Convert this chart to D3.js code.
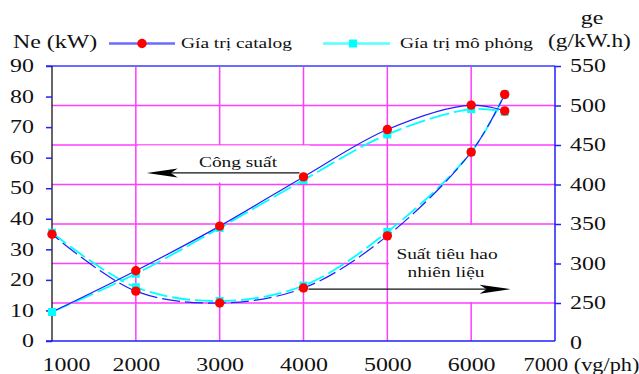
<!DOCTYPE html>
<html><head><meta charset="utf-8">
<script src="https://cdn.jsdelivr.net/npm/d3@7"></script>
<style>
  body { margin: 0; background: #fff; }
  svg { display: block; }
  svg text { font-family: "Times New Roman", "Liberation Serif", "DejaVu Serif", serif; fill: #111; }
</style>
</head><body>
<svg id="chart" width="639" height="374"></svg>
<script>
// Engine speed (vg/ph)
const rpm = [1000, 2000, 3000, 4000, 5000, 6000, 6400];
// Effective power Ne (kW)
const neCatalog   = [9.5, 23, 37.6, 53.7, 69.2, 77.2, 75.3];
const neCatalogMarked = [false, true, true, true, true, true, true];
const neSimulated = [9.5, 22, 37, 52.7, 67.6, 75.9, 75.0];
// Specific fuel consumption ge (g/kW.h)
const geCatalog   = [337, 265, 250, 269, 335, 441, 514];
const geSimulated = [339, 270, 252.5, 272, 340, 441, 514];

// Axis ticks and labels
const xTicks = [1000, 2000, 3000, 4000, 5000, 6000, 7000];
const xTickLabels = ["1000", "2000", "3000", "4000", "5000", "6000", "7000 (vg/ph)"];
const neTicks = [0, 10, 20, 30, 40, 50, 60, 70, 80, 90];
const geTicks = [200, 250, 300, 350, 400, 450, 500, 550];
const geTickLabels = ["0", "250", "300", "350", "400", "450", "500", "550"];
const xGrid = [2000, 3000, 4000, 5000, 6000];
const geGrid = [250, 300, 350, 400, 450, 500];

const leftTitle = "Ne (kW)";
const rightTitle = ["ge", "(g/kW.h)"];
const seriesNames = ["Gía trị catalog", "Gía trị mô phỏng"];
const powerNote = "Công suất";
const fuelNote = ["Suất tiêu hao", "nhiên liệu"];

// ---- layout ----
const SERIF = "'Times New Roman', 'Liberation Serif', 'DejaVu Serif', serif";
const SX = 1.33;                  // horizontal stretch of the lettering
const plot = { left: 52, right: 555, top: 66, bottom: 341 };
const BLUE = "#1f1fff", CYAN = "#00ffff", GRID = "#ff3cff", RED = "#ff0000";

const svg = d3.select("#chart");
const x = d3.scaleLinear([1000, 7000], [plot.left, plot.right]);
const yNe = d3.scaleLinear([0, 90], [plot.bottom, plot.top]);
const yGe = d3.scaleLinear([200, 550], [342.5, plot.top]);

// stretched text helper
function label(g, str, px, py, size, anchor, sx) {
  return g.append("text")
    .attr("transform", `translate(${px},${py}) scale(${sx || SX},1)`)
    .attr("text-anchor", anchor || "start")
    .style("font-family", SERIF)
    .style("font-size", size + "px")
    .text(str);
}

// ---- grid ----
const grid = svg.append("g").attr("stroke", GRID).attr("stroke-width", 1.5);
grid.selectAll(".gx").data(xGrid).join("line")
  .attr("x1", d => x(d)).attr("x2", d => x(d))
  .attr("y1", plot.top).attr("y2", plot.bottom);
grid.selectAll(".gy").data(geGrid).join("line")
  .attr("x1", plot.left).attr("x2", plot.right)
  .attr("y1", d => yGe(d)).attr("y2", d => yGe(d));

// annotation backgrounds
const notes = svg.append("g");
notes.append("rect").attr("x", 138).attr("y", 145.5).attr("width", 172).attr("height", 37).attr("fill", "#fff");
notes.append("rect").attr("x", 389).attr("y", 225).attr("width", 165).attr("height", 77).attr("fill", "#fff");

// ---- axes ----
const axes = svg.append("g");
axes.append("line").attr("x1", 46).attr("x2", plot.right).attr("y1", plot.top).attr("y2", plot.top)
  .attr("stroke", "#6b6bff").attr("stroke-width", 2);
axes.append("line").attr("x1", 46).attr("x2", plot.right).attr("y1", plot.bottom).attr("y2", plot.bottom)
  .attr("stroke", BLUE).attr("stroke-width", 1.5);
axes.append("line").attr("x1", plot.right).attr("x2", plot.right).attr("y1", plot.top).attr("y2", plot.bottom)
  .attr("stroke", BLUE).attr("stroke-width", 1.5);
axes.append("line").attr("x1", plot.left).attr("x2", plot.left).attr("y1", plot.top).attr("y2", plot.bottom)
  .attr("stroke", "#000").attr("stroke-width", 1.2);

function styleAxis(g) {
  g.attr("font-family", SERIF);
  g.select(".domain").remove();
  g.selectAll(".tick line").attr("stroke", BLUE).attr("stroke-width", 1.5);
  g.selectAll(".tick text")
    .style("font-size", "18px").style("font-family", SERIF).attr("fill", "#111")
    .attr("transform", `scale(${SX},1)`)
    .attr("x", function () { return (+this.getAttribute("x") || 0) / SX; });
}

svg.append("g").attr("transform", `translate(${plot.left},0)`)
  .call(d3.axisLeft(yNe).tickValues(neTicks).tickSize(6).tickPadding(12).tickFormat(d3.format("d")))
  .call(styleAxis);

svg.append("g").attr("transform", `translate(${plot.right},0)`)
  .call(d3.axisRight(yGe).tickValues(geTicks).tickSize(6).tickPadding(9)
    .tickFormat((d, i) => geTickLabels[i]))
  .call(styleAxis)
  .call(g => g.selectAll(".tick").filter(d => d === 200).select("line").remove());

svg.append("g").attr("transform", `translate(0,${plot.bottom})`)
  .call(d3.axisBottom(x).tickValues(xTicks).tickSize(0).tickPadding(17)
    .tickFormat((d, i) => xTickLabels[i]))
  .call(styleAxis)
  .call(g => {
    const t = g.selectAll(".tick text");
    t.filter((d, i) => i === 0).attr("x", 14 / SX);
    // the unit label runs to the right edge, so it is set a little narrower
    t.filter((d, i) => i === xTicks.length - 1)
      .attr("text-anchor", "start").attr("transform", "scale(1.24,1)").attr("x", -32 / 1.24);
  });

// ---- curves ----
const curve = d3.curveCatmullRom.alpha(0.5);
const lineNe = d3.line().x((d, i) => x(rpm[i])).y(d => yNe(d)).curve(curve);
const lineGe = d3.line().x((d, i) => x(rpm[i])).y(d => yGe(d)).curve(curve);

const lines = svg.append("g").attr("fill", "none");
lines.append("path").attr("d", lineGe(geSimulated)).attr("stroke", CYAN).attr("stroke-width", 1.8)
  .attr("stroke-dasharray", "18,5");
lines.append("path").attr("d", lineGe(geCatalog)).attr("stroke", BLUE).attr("stroke-width", 1.2)
  .attr("stroke-dasharray", "18,5").attr("stroke-dashoffset", 9);
lines.append("path").attr("d", lineNe(neSimulated)).attr("stroke", CYAN).attr("stroke-width", 1.8)
  .attr("stroke-dasharray", "20,5");
lines.append("path").attr("d", lineNe(neCatalog)).attr("stroke", BLUE).attr("stroke-width", 1.2);

// ---- markers ----
const marks = svg.append("g");
const sq = 8;
function squares(vals, y) {
  marks.append("g").selectAll("rect").data(vals).join("rect")
    .attr("x", (d, i) => x(rpm[i]) - sq / 2).attr("y", d => y(d) - sq / 2)
    .attr("width", sq).attr("height", sq).attr("fill", CYAN);
}
function dots(vals, y, shown) {
  marks.append("g").selectAll("circle").data(vals.map((v, i) => ({ v, i })).filter(d => !shown || shown[d.i]))
    .join("circle")
    .attr("cx", d => x(rpm[d.i])).attr("cy", d => y(d.v)).attr("r", 4.7).attr("fill", RED);
}
squares(geSimulated, yGe);
squares(neSimulated, yNe);
dots(geCatalog, yGe);
dots(neCatalog, yNe, neCatalogMarked);

// ---- annotations ----
const ann = svg.append("g");
function arrow(x1, x2, y) {
  const dir = Math.sign(x2 - x1);
  ann.append("line").attr("x1", x1).attr("x2", x2 - dir * 20).attr("y1", y).attr("y2", y)
    .attr("stroke", "#111").attr("stroke-width", 1.2);
  ann.append("path")
    .attr("d", `M${x2},${y} L${x2 - dir * 31},${y - 4.5} L${x2 - dir * 24},${y} L${x2 - dir * 31},${y + 4.5} Z`)
    .attr("fill", "#000");
}
arrow(x(4000) - 4, x(2130), yNe(55));
arrow(x(4060), x(6470), yGe(267.5));
label(ann, powerNote, 238, 166.5, 14.6, "middle");
label(ann, fuelNote[0], 447, 258.5, 14.6, "middle");
label(ann, fuelNote[1], 446, 277, 14.6, "middle");

// ---- titles and legend ----
const head = svg.append("g");
label(head, leftTitle, 13, 48, 18, "start");
label(head, rightTitle[0], 592, 24, 18, "middle");
label(head, rightTitle[1], 548, 47, 18, "start", 1.3);

head.append("line").attr("x1", 109).attr("x2", 175).attr("y1", 43.5).attr("y2", 43.5)
  .attr("stroke", "#6b6bff").attr("stroke-width", 2.5);
head.append("circle").attr("cx", 142).attr("cy", 43.5).attr("r", 4.7).attr("fill", RED);
label(head, seriesNames[0], 181, 48, 14.6, "start");

head.append("line").attr("x1", 323).attr("x2", 390).attr("y1", 43.5).attr("y2", 43.5)
  .attr("stroke", "#55ffff").attr("stroke-width", 2.5);
head.append("rect").attr("x", 353 - sq / 2).attr("y", 43.5 - sq / 2).attr("width", sq).attr("height", sq).attr("fill", CYAN);
label(head, seriesNames[1], 400, 48, 14.6, "start");
</script>
</body></html>
